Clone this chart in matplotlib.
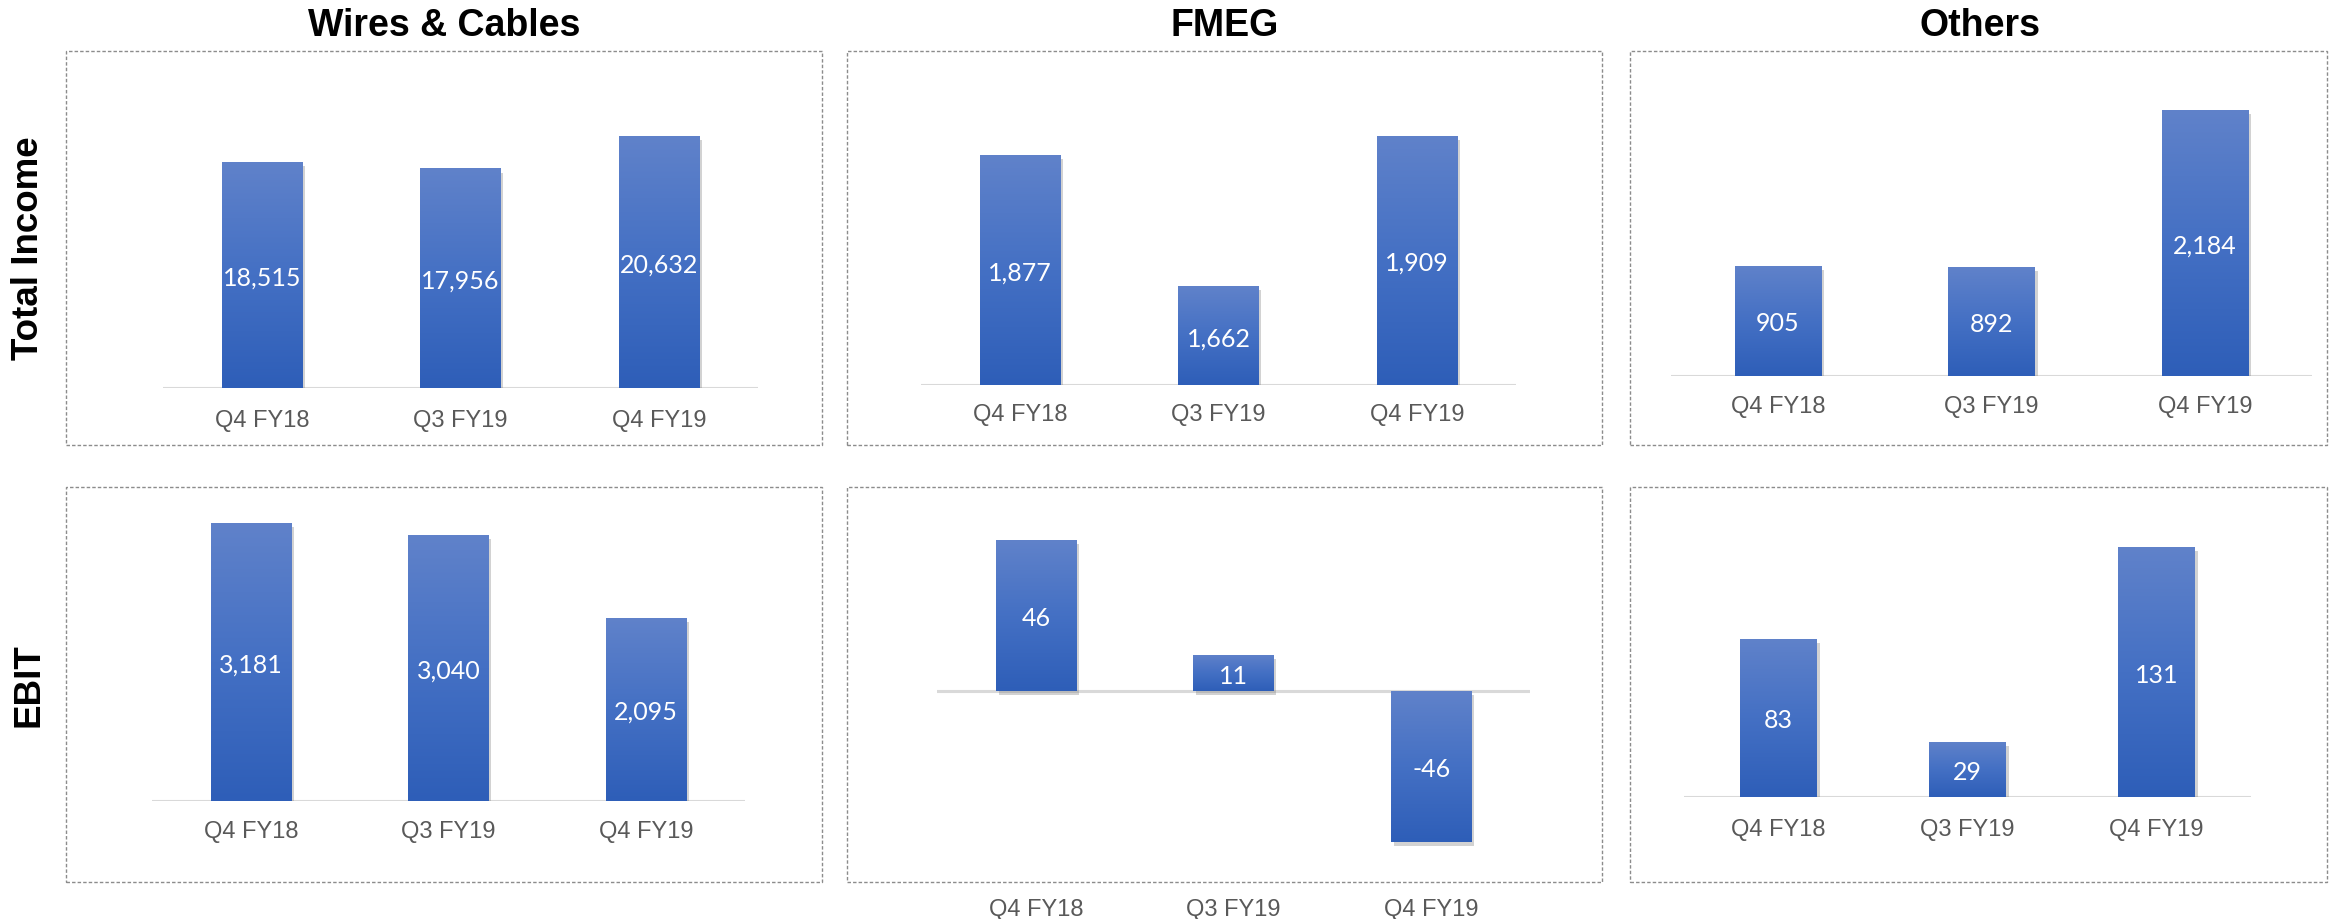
import numpy as np
import matplotlib
matplotlib.use('Agg')
import matplotlib.pyplot as plt
import matplotlib.patheffects as pe
from matplotlib.colors import LinearSegmentedColormap
from matplotlib.patches import Rectangle


quarters = ['Q4 FY18', 'Q3 FY19', 'Q4 FY19']
segments = ['Wires & Cables', 'FMEG', 'Others']
row_names = ['Total Income', 'EBIT']

income_wires = [18515, 17956, 20632]
income_fmeg = [1877, 1662, 1909]
income_others = [905, 892, 2184]

ebit_wires = [3181, 3040, 2095]
ebit_fmeg = [46, 11, -46]
ebit_others = [83, 29, 131]

values = [[income_wires, income_fmeg, income_others],
          [ebit_wires, ebit_fmeg, ebit_others]]

W, H = 2335, 920

# axes placement in pixels: left, right, top, bottom ; y limits ; tick pad (pt)
ax_px = [[(163, 758, 60, 389), (921, 1516, 60, 386), (1671, 2312, 60, 377)],
         [(152, 745, 496, 802), (937, 1530, 496, 883), (1684, 2251, 496, 798)]]
ylims = [[(0, 26900), (1500, 2035), (0, 2600)],
         [(0, 3500), (-58.2, 59.8), (0, 158.4)]]
pads = [[14.8, 13.3, 14.0],
        [14.0, 11.2, 14.8]]

# dashed frames: left, right, top, bottom (pixels)
box_x = [(66, 822), (847, 1602), (1630, 2327)]
box_y = [(52, 446), (488, 883)]

title_x = [444, 1225, 1980]
row_label_y = [248, 685]

bar_cmap = LinearSegmentedColormap.from_list('bar', ['#2E5EB8', '#4470C4', '#6082CA'])
grad = np.linspace(0, 1, 256).reshape(-1, 1)

fig = plt.figure(figsize=(W / 100, H / 100), dpi=100)


def draw_panel(ax, vals, ylim, pad):
    x = np.arange(len(vals))
    base = ylim[0] if ylim[0] > 0 else 0

    ax.axhline(base, color='#d9d9d9', lw=2.2, zorder=1)

    bars = ax.bar(x, vals, width=0.405, color='#4470C4', zorder=2)
    for rect, v in zip(bars, vals):
        rect.set_path_effects([
            pe.SimplePatchShadow(offset=(2, -3), shadow_rgbFace='#7f7f7f', alpha=0.35),
            pe.Normal()])
        x0 = rect.get_x()
        lo = max(min(0, v), ylim[0])
        hi = max(0, v)
        im = ax.imshow(grad, extent=[x0, x0 + rect.get_width(), lo, hi],
                       origin='lower', aspect='auto', cmap=bar_cmap, zorder=3)
        im.set_clip_path(rect)

        ax.text(rect.get_x() + rect.get_width() / 2, (lo + hi) / 2, f'{v:,}',
                ha='center', va='center_baseline', color='white',
                fontsize=18, family=['Lato', 'DejaVu Sans'], zorder=4)

    ax.set_xlim(-0.5, len(vals) - 0.5)
    ax.set_ylim(*ylim)
    ax.set_xticks(x)
    ax.set_xticklabels(quarters, fontsize=17, color='#595959',
                       family=['Liberation Sans', 'DejaVu Sans'])
    ax.tick_params(axis='x', length=0, pad=pad)
    ax.set_yticks([])
    for s in ax.spines.values():
        s.set_visible(False)
    ax.patch.set_alpha(0)


for r in range(2):
    for c in range(3):
        left, right, top, bottom = ax_px[r][c]
        ax = fig.add_axes([left / W, 1 - bottom / H, (right - left) / W, (bottom - top) / H])
        draw_panel(ax, values[r][c], ylims[r][c], pads[r][c])

        bx0, bx1 = box_x[c]
        by0, by1 = box_y[r]
        fig.patches.append(Rectangle((bx0 / W, 1 - by1 / H), (bx1 - bx0) / W, (by1 - by0) / H,
                                     transform=fig.transFigure, fill=False,
                                     ec='#8c8c8c', lw=1.0, ls=(0, (2.5, 1.5))))

for name, tx in zip(segments, title_x):
    fig.text(tx / W, 1 - 22 / H, name, ha='center', va='center_baseline',
             fontsize=27, weight='bold', family=['Liberation Sans', 'DejaVu Sans'])

for name, ty in zip(row_names, row_label_y):
    fig.text(29 / W, 1 - ty / H, name, ha='center', va='center', rotation=90,
             fontsize=26.5, weight='bold', family=['Liberation Sans', 'DejaVu Sans'])

fig.savefig('out.png', dpi=100)
